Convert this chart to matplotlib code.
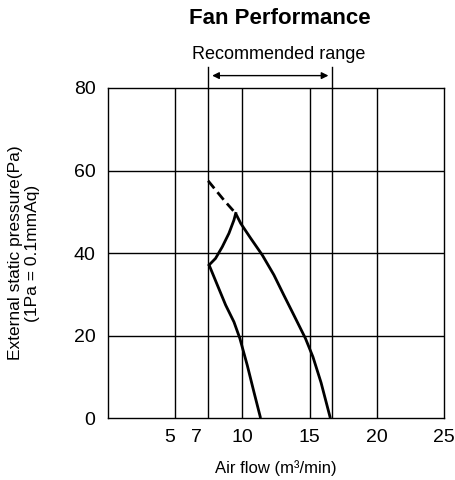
import matplotlib
matplotlib.use("Agg")
import matplotlib.pyplot as plt

plt.rcParams['font.family'] = ['Liberation Sans', 'DejaVu Sans']

# Data
x_tick_pos = [4.55, 6.6, 10, 15, 20, 25]
x_tick_labels = ["5", "7", "10", "15", "20", "25"]
x_grid = [5, 7.45, 10, 15, 16.7, 20]
y_ticks = [0, 20, 40, 60, 80]
range_lo, range_hi = 7.45, 16.7

# Upper (high speed) curve
high_x = [9.5, 9.87, 10.61, 11.48, 12.34, 13.08, 13.82, 14.69, 15.25, 15.85, 16.54]
high_y = [49.6, 47.2, 43.6, 39.5, 34.7, 29.8, 25.0, 19.3, 14.8, 8.6, 0.0]
# Dashed extension of high-speed curve
dash_x = [7.45, 8.63, 9.5]
dash_y = [57.5, 52.8, 49.6]
# Connecting branch
conn_x = [7.52, 8.0, 8.5, 9.0, 9.37, 9.5]
conn_y = [37.1, 38.7, 41.5, 44.8, 48.0, 49.6]
# Low speed curve
low_x = [7.52, 8.14, 8.75, 9.37, 9.81, 10.36, 10.85, 11.35]
low_y = [37.1, 32.2, 27.4, 23.3, 19.3, 12.8, 6.4, 0.0]

fig = plt.figure(figsize=(4.55, 4.8), dpi=100)
ax = fig.add_axes([0.2374, 0.129, 0.7385, 0.6877])
ax.set_xlim(0, 25)
ax.set_ylim(0, 80)

for xv in x_grid:
    ax.axvline(xv, color='black', lw=1.0, zorder=1)
for yv in y_ticks[1:-1]:
    ax.axhline(yv, color='black', lw=1.0, zorder=1)

ax.plot(high_x, high_y, color='black', lw=2.0, zorder=3, solid_capstyle='butt')
ax.plot(conn_x, conn_y, color='black', lw=2.0, zorder=3)
ax.plot(low_x, low_y, color='black', lw=2.0, zorder=3, solid_capstyle='butt')
ax.plot(dash_x, dash_y, color='black', lw=2.0, ls=(0, (3.5, 1.8)), zorder=3)

ax.set_xticks(x_tick_pos)
ax.set_xticklabels(x_tick_labels)
ax.set_yticks(y_ticks)
ax.tick_params(axis='y', length=0, labelsize=14, pad=9)
ax.tick_params(axis='x', length=0, labelsize=14, pad=8)
for s in ax.spines.values():
    s.set_linewidth(1.0)

ax.set_xlabel("Air flow (m³/min)", fontsize=12, labelpad=10)
ax.set_ylabel("External static pressure(Pa)\n(1Pa = 0.1mmAq)", fontsize=12.5, labelpad=24)

# Recommended range marker above axes
for xv in (range_lo, range_hi):
    ax.plot([xv, xv], [80, 85], color='black', lw=1.0, clip_on=False)
ax.annotate("", xy=(range_lo + 0.3, 83), xytext=(range_hi - 0.3, 83),
            xycoords='data', textcoords='data',
            arrowprops=dict(arrowstyle='<|-|>', color='black', lw=1.0,
                            mutation_scale=10, shrinkA=0, shrinkB=0),
            annotation_clip=False)
fig.text(0.613, 0.887, "Recommended range", ha='center', va='center', fontsize=13)
fig.text(0.615, 0.961, "Fan Performance", ha='center', va='center', fontsize=16, fontweight='bold')

fig.savefig("out.png", dpi=100)
